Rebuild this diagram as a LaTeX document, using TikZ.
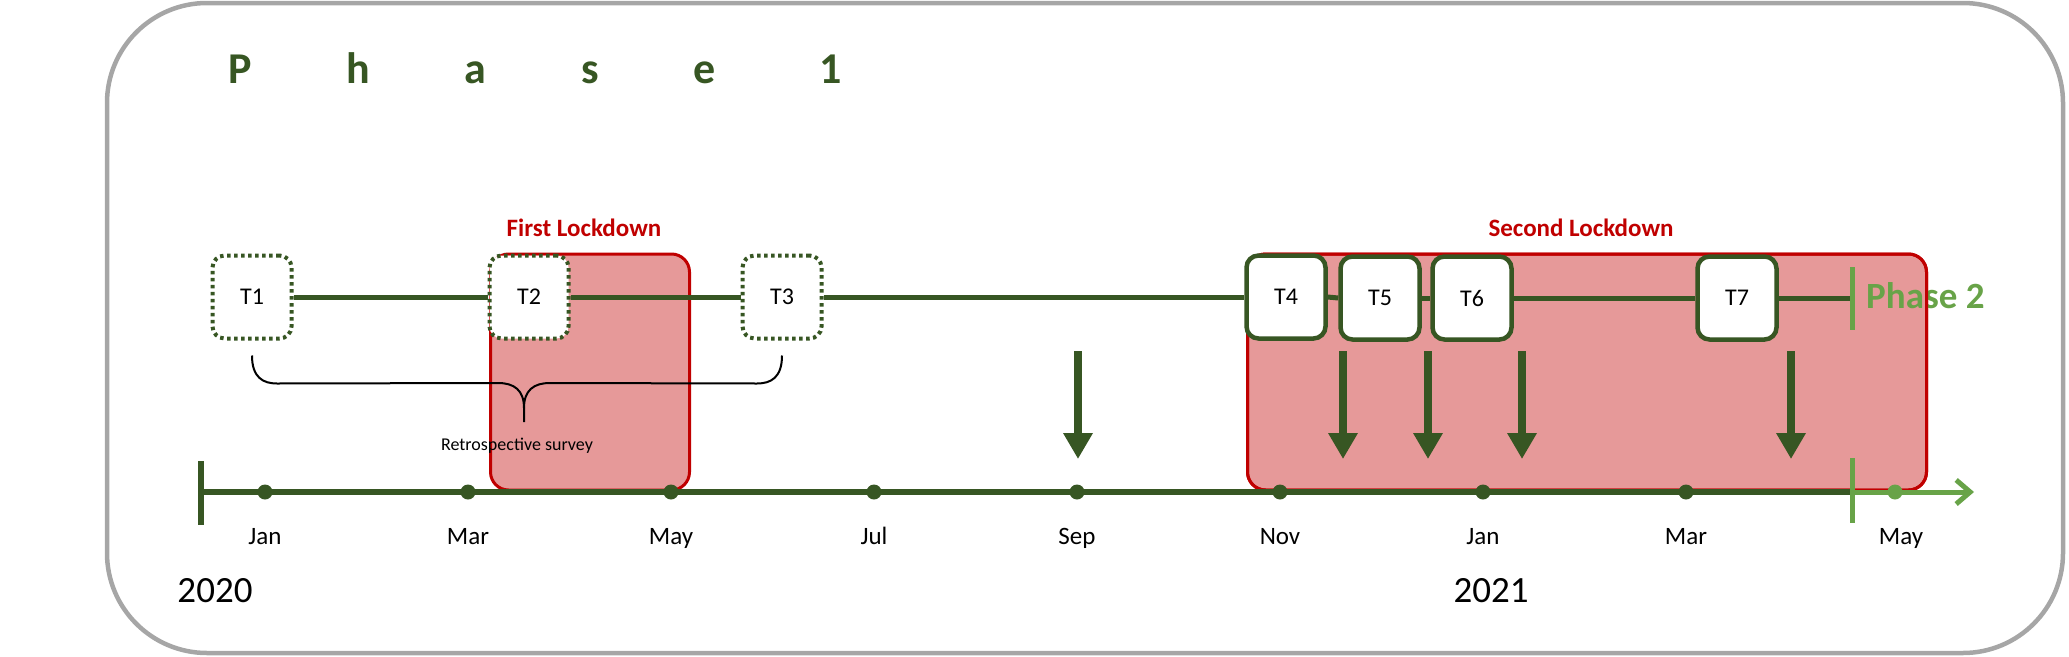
\documentclass[tikz,border=0pt]{standalone}
\usepackage{fontspec}
\setmainfont{Carlito}
\usetikzlibrary{arrows.meta}
\usetikzlibrary{calc}
\usetikzlibrary{positioning}

\definecolor{darkgreen}{HTML}{375623}
\definecolor{lightgreen}{HTML}{68A348}
\definecolor{darkred}{HTML}{C00000}
\definecolor{framegray}{HTML}{A6A6A6}

\tikzset{
    survey/.style={draw=darkgreen, line width=4pt, dash pattern=on 3.5pt off 3.5pt, rounded corners=12pt, fill=white, minimum width=79pt, minimum height=83pt, font=\fontsize{24}{28}\selectfont},
    wave/.style={draw=darkgreen, line width=4.5pt, rounded corners=12pt, fill=white, minimum width=79pt, minimum height=83pt, font=\fontsize{24}{28}\selectfont},
    lockdown/.style={draw=darkred, line width=3pt, fill=darkred, fill opacity=0.4, rounded corners=18pt, minimum height=236pt, outer sep=0pt},
    lockdownlabel/.style={text=darkred, font=\bfseries\fontsize{25}{30}\selectfont, inner sep=0pt},
    timeline/.style={draw=darkgreen, line width=5pt},
    axis/.style={draw=darkgreen, line width=6pt},
    phasetick/.style={draw=lightgreen, line width=5pt},
    monthdot/.style={circle, fill=darkgreen, inner sep=0pt, minimum size=15pt},
    month/.style={font=\fontsize{25}{30}\selectfont, inner sep=0pt},
    year/.style={font=\fontsize{37}{44}\selectfont, inner sep=0pt},
    bigarrow/.style={draw=darkgreen, line width=8pt, -{Triangle[width=28pt,length=26pt]}},
    brace/.style={draw=black, line width=2pt},
}

\begin{document}
\begin{tikzpicture}[x=1pt,y=-1pt]
    \useasboundingbox (0,0) rectangle (2069,656);
    \draw[framegray, line width=4.5pt, rounded corners=100pt] (107,3) rectangle (2063,653);

    % title
    \foreach \x/\c in {240/P,358/h,475/a,590/s,705/e,831/1}
        \node[text=darkgreen, font=\bfseries\fontsize{44}{50}\selectfont, anchor=base, inner sep=0pt] at (\x,83) {\c};

    % lockdowns
    \node[lockdown, minimum width=199pt] (L1) at (590,372) {};
    \node[lockdown, minimum width=679pt] (L2) at (1587,372) {};
    \node[lockdownlabel, above=17pt of L1, xshift=-6pt] {First Lockdown};
    \node[lockdownlabel, above=17pt of L2, xshift=-6pt] {Second Lockdown};

    % phase 2 label, the lockdown edge runs over it
    \node[text=lightgreen, font=\bfseries\fontsize{37}{44}\selectfont, anchor=base west, inner sep=0pt] (P2) at (1866,308) {Phase 2};
    \draw[darkred, line width=3pt, rounded corners=18pt] (L2.south west) rectangle (L2.north east);

    % survey waves
    \node[survey] (T1) at (252,297) {T1};
    \node[survey] (T2) at (529,297) {T2};
    \node[survey] (T3) at (782,297) {T3};
    \node[wave] (T4) at (1286,297) {T4};
    \node[wave] (T5) at (1380,298) {T5};
    \node[wave] (T6) at (1472,298) {T6};
    \node[wave] (T7) at (1737,298) {T7};

    \coordinate (p2up) at (1852,298);
    \coordinate (p2low) at (1852,492);
    \coordinate (start) at (201,492);

    \foreach \a/\b in {T1/T2,T2/T3,T3/T4,T4/T5,T5/T6,T6/T7}
        \draw[timeline] (\a.east) -- (\b.west);
    \draw[timeline] (T7.east) -- (p2up);
    \draw[phasetick] ($(p2up)+(0,-31)$) -- ($(p2up)+(0,32)$);

    % retrospective brace
    \coordinate (bl) at ($(T1.south)+(0,15)$);
    \coordinate (br) at ($(T3.south)+(0,15)$);
    \coordinate (btip) at (524,422);
    \draw[brace] (bl) .. controls +(0,22) and +(-14,0) .. ++(25,28) -- ($(btip)+(-26,-39)$) .. controls +(16,0) and +(0,-18) .. ($(btip)+(0,-14)$) -- (btip);
    \draw[brace] (br) .. controls +(0,22) and +(14,0) .. ++(-25,28) -- ($(btip)+(26,-39)$) .. controls +(-16,0) and +(0,-18) .. ($(btip)+(0,-14)$);
    \node[font=\fontsize{18}{22}\selectfont, anchor=base, inner sep=0pt] at (517,450) {Retrospective survey};

    % data collection
    \foreach \x [count=\i] in {1078,1343,1428,1522,1791} {
        \coordinate (a\i) at (\x,351);
        \draw[bigarrow] (a\i) -- ++(0,108);
    }

    % time axis
    \draw[axis] (start) -- (p2low);
    \draw[axis] ($(start)+(0,-31)$) -- ($(start)+(0,33)$);
    \draw[phasetick] ($(p2low)+(0,-34)$) -- ($(p2low)+(0,31)$);
    \draw[phasetick, -{Straight Barb[width=24pt,length=14pt]}] (p2low) -- ++(122,0);
    \foreach \x/\m [count=\i] in {265/Jan,468/Mar,671/May,874/Jul,1077/Sep,1280/Nov,1483/Jan,1686/Mar} {
        \node[monthdot] (d\i) at (\x,492) {};
        \node[month, anchor=base] at (\x,544) {\m};
    }
    \node[monthdot, fill=lightgreen] (d9) at (1895,492) {};
    \node[month, anchor=base] at (1901,544) {May};

    \node[year, anchor=base] at (215,602) {2020};
    \node[year, anchor=base] at (1491,602) {2021};
\end{tikzpicture}
\end{document}
